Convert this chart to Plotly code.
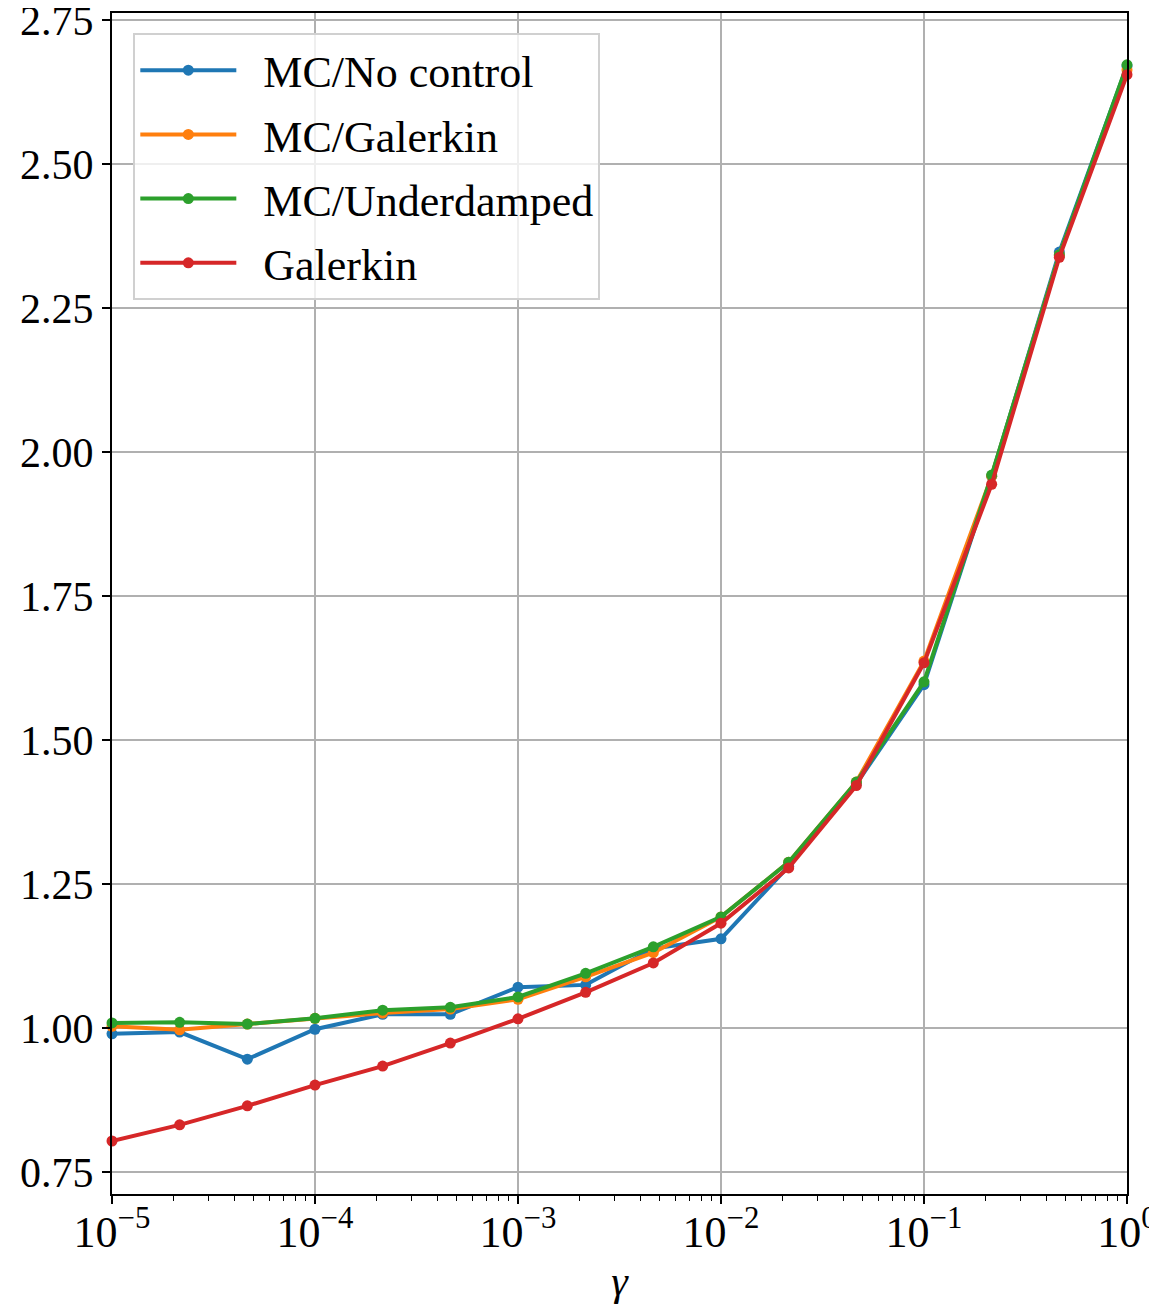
import numpy as np
import plotly.graph_objects as go

gamma = [10 ** (-5 + k / 3) for k in range(16)]

no_control = [0.990, 0.993, 0.946, 0.998, 1.024, 1.024, 1.071, 1.075, 1.138, 1.155,
              1.281, 1.424, 1.596, 1.958, 2.347, 2.670]
mc_galerkin = [1.003, 0.997, 1.007, 1.017, 1.026, 1.033, 1.050, 1.089, 1.131, 1.193,
               1.288, 1.427, 1.637, 1.958, 2.342, 2.663]
underdamped = [1.009, 1.010, 1.007, 1.017, 1.031, 1.036, 1.054, 1.095, 1.141, 1.193,
               1.288, 1.427, 1.601, 1.960, 2.342, 2.672]
galerkin = [0.804, 0.832, 0.865, 0.901, 0.934, 0.974, 1.016, 1.062, 1.113, 1.182,
            1.278, 1.421, 1.634, 1.944, 2.338, 2.655]

series = [
    ("MC/No control", no_control, "#1f77b4"),
    ("MC/Galerkin", mc_galerkin, "#ff7f0e"),
    ("MC/Underdamped", underdamped, "#2ca02c"),
    ("Galerkin", galerkin, "#d62728"),
]

x_tickvals = [1e-5, 1e-4, 1e-3, 1e-2, 1e-1, 1e0]
x_ticktext = ["10<sup>−5</sup>", "10<sup>−4</sup>", "10<sup>−3</sup>",
              "10<sup>−2</sup>", "10<sup>−1</sup>", "10<sup>0</sup>"]
y_tickvals = [0.75, 1.00, 1.25, 1.50, 1.75, 2.00, 2.25, 2.50, 2.75]
minor_x = [m * 10.0 ** e for e in range(-5, 0) for m in range(2, 10)]

FONT = "Liberation Serif, DejaVu Serif, serif"
PAD = "\u00a0\u00a0"

fig = go.Figure()
for name, vals, color in series:
    fig.add_trace(go.Scatter(
        x=gamma, y=vals, name=PAD + name, mode="lines+markers",
        legendgroup=name,
        line=dict(color=color, width=4),
        marker=dict(color=color, size=11),
        cliponaxis=False,
    ))

fig.update_layout(
    width=1149, height=1296,
    margin=dict(l=104, r=30, t=5, b=110),
    paper_bgcolor="white", plot_bgcolor="white",
    font=dict(family=FONT, size=42, color="black"),
    showlegend=True,
    legend=dict(
        x=0.021, y=0.983, xanchor="left", yanchor="top",
        bgcolor="rgba(255,255,255,0.8)", bordercolor="#d0d0d0", borderwidth=2,
        font=dict(family=FONT, size=44),
        tracegroupgap=4, itemwidth=96,
    ),
    xaxis=dict(
        type="log", range=[-5, 0], automargin=False,
        tickmode="array", tickvals=x_tickvals, ticktext=x_ticktext,
        ticklabeloverflow="allow", ticklabelstandoff=-10,
        showgrid=True, gridcolor="#b0b0b0", gridwidth=1.8,
        showline=True, linecolor="black", linewidth=2, mirror=True,
        ticks="outside", ticklen=8, tickwidth=1.8, tickcolor="black",
        minor=dict(tickmode="array", tickvals=minor_x, ticks="outside",
                   ticklen=5, tickwidth=1.2, tickcolor="black", showgrid=False),
        zeroline=False,
        title=dict(text="<i>γ</i>", font=dict(family=FONT, size=42), standoff=14),
        tickfont=dict(family=FONT, size=44),
    ),
    yaxis=dict(
        range=[0.712, 2.762], automargin=False,
        tickmode="array", tickvals=y_tickvals, tickformat=".2f",
        ticklabeloverflow="allow",
        showgrid=True, gridcolor="#b0b0b0", gridwidth=1.8,
        showline=True, linecolor="black", linewidth=2, mirror=True,
        ticks="outside", ticklen=8, tickwidth=1.8, tickcolor="black",
        zeroline=False,
        tickfont=dict(family=FONT, size=42),
    ),
)

fig.write_html("out.html")
